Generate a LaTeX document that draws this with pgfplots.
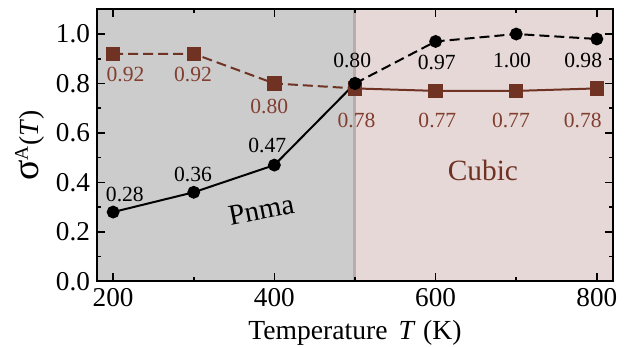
\documentclass[border=0pt]{standalone}
\usepackage{fontspec}
\setmainfont{Liberation Serif}
\usepackage{pgfplots}
\pgfplotsset{compat=1.18}
\definecolor{brn}{RGB}{112,50,35}
\definecolor{brnt}{RGB}{130,62,48}
\definecolor{grayreg}{RGB}{204,204,204}
\definecolor{pinkreg}{RGB}{229,216,214}
\definecolor{sep}{RGB}{186,172,170}
\begin{document}
\begin{tikzpicture}
\useasboundingbox (-48.5pt,-32.85pt) rectangle (265.5pt,140.65pt);
\begin{axis}[
  at={(0,0)}, anchor=south west,
  scale only axis, width=258pt, height=136pt,
  xmin=180, xmax=820, ymin=0, ymax=1.1,
  xtick={200,400,600,800}, minor xtick={300,500,700},
  ytick={0,0.2,0.4,0.6,0.8,1.0}, minor ytick={0.1,0.3,0.5,0.7,0.9},
  yticklabel style={/pgf/number format/.cd, fixed, fixed zerofill, precision=1},
  /pgf/number format/assume math mode=true,
  tick align=inside,
  major tick length=4pt, minor tick length=2pt,
  every tick/.style={black, line width=0.8pt},
  axis line style={line width=1pt},
  tick label style={font=\fontsize{13.6}{15}\selectfont},
  label style={font=\fontsize{13.8}{15}\selectfont},
  xlabel={Temperature\hspace{0.4em}\textit{T}\hspace{0.28em}(K)},
  ylabel={{\fontsize{19}{19}\selectfont σ}\textsuperscript{A}(\textit{T})},
  ylabel shift=-1pt,
  axis on top,
  clip=false,
]
\addplot[fill=grayreg, draw=none] coordinates {(180,0) (180,1.1) (500,1.1) (500,0)} -- cycle;
\addplot[fill=pinkreg, draw=none] coordinates {(500,0) (500,1.1) (820,1.1) (820,0)} -- cycle;
\addplot[sep, line width=1.5pt] coordinates {(500,0) (500,1.1)};

\addplot[brn, line width=1pt, dash pattern=on 5pt off 2.5pt, mark=square*, mark size=3.1pt, mark options={solid}]
  coordinates {(200,0.92) (300,0.92) (400,0.80) (500,0.78)};
\addplot[brn, line width=1pt, mark=square*, mark size=3.1pt]
  coordinates {(500,0.78) (600,0.77) (700,0.77) (800,0.78)};
\addplot[black, line width=1pt, mark=*, mark size=2.7pt]
  coordinates {(200,0.28) (300,0.36) (400,0.47) (500,0.80)};
\addplot[black, line width=1pt, dash pattern=on 5pt off 2.5pt, mark=*, mark size=2.7pt, mark options={solid}]
  coordinates {(500,0.80) (600,0.97) (700,1.00) (800,0.98)};

\begin{scope}[every node/.style={font=\fontsize{10.8}{12}\selectfont}]
\node at (axis cs:214.6,0.352) {0.28};
\node at (axis cs:299.1,0.432) {0.36};
\node at (axis cs:391.2,0.549) {0.47};
\node at (axis cs:496.5,0.893) {0.80};
\node at (axis cs:601.4,0.886) {0.97};
\node at (axis cs:694.7,0.893) {1.00};
\node at (axis cs:783.0,0.893) {0.98};
\node[text=brnt] at (axis cs:215.4,0.836) {0.92};
\node[text=brnt] at (axis cs:299.1,0.836) {0.92};
\node[text=brnt] at (axis cs:393.7,0.707) {0.80};
\node[text=brnt] at (axis cs:501.9,0.650) {0.78};
\node[text=brnt] at (axis cs:602.2,0.650) {0.77};
\node[text=brnt] at (axis cs:693.4,0.650) {0.77};
\node[text=brnt] at (axis cs:782.6,0.650) {0.78};
\end{scope}
\node[rotate=11, font=\fontsize{14.5}{16}\selectfont] at (axis cs:383.7,0.287) {Pnma};
\node[text=brn, font=\fontsize{14.7}{17}\selectfont] at (axis cs:658.6,0.449) {Cubic};
\end{axis}
\end{tikzpicture}
\end{document}
